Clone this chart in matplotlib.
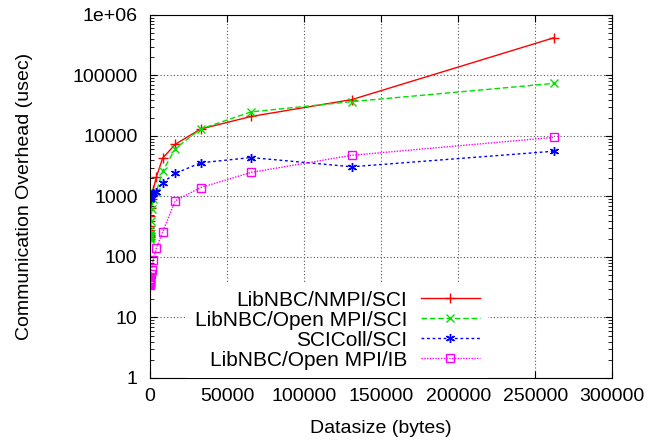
import numpy as np
import matplotlib
matplotlib.use('Agg')
import matplotlib.pyplot as plt
from matplotlib.ticker import FixedLocator, FuncFormatter, LogLocator

plt.rcParams['font.family'] = ['Liberation Sans', 'DejaVu Sans']

# message sizes (bytes): 1 .. 256K
sizes = [1, 2, 4, 8, 16, 32, 64, 128, 256, 512, 1024, 2048,
         4096, 8192, 16384, 32768, 65536, 131072, 262144]

nbc_nmpi_sci = [200, 210, 220, 230, 250, 280, 330, 400, 480, 650, 900, 1300,
                2100, 4300, 7300, 13000, 21000, 40000, 420000]
nbc_ompi_sci = [200, 205, 210, 215, 220, 225, 230, 240, 280, 400, 620, 900,
                1200, 2600, 6200, 13000, 25000, 37000, 74000]
scicoll_sci = [900, 920, 940, 950, 960, 980, 1000, 1000, 1020, 1050, 1100, 1150,
               1200, 1700, 2400, 3600, 4400, 3100, 5600]
nbc_ompi_ib = [35, 36, 37, 38, 39, 40, 42, 44, 47, 52, 60, 90,
               140, 260, 850, 1400, 2500, 4800, 9500]

labels = ['LibNBC/NMPI/SCI', 'LibNBC/Open MPI/SCI', 'SCIColl/SCI', 'LibNBC/Open MPI/IB']

fs = 14

fig = plt.figure(figsize=(6.68, 4.46), dpi=100)
ax = fig.add_axes([0.2246, 0.1525, 0.6919, 0.8139])

ax.plot(sizes, nbc_nmpi_sci, color='#ff0000', ls='-', lw=1, marker='+', ms=7, mew=1, label=labels[0])
ax.plot(sizes, nbc_ompi_sci, color='#00e000', ls=(0, (4, 2)), lw=1, marker='x', ms=5.5, mew=1, label=labels[1])
ax.plot(sizes, scicoll_sci, color='#0000ff', ls=(0, (2, 2)), lw=1, marker=(6, 2, 0), ms=6.5, mew=1, label=labels[2])
ax.plot(sizes, nbc_ompi_ib, color='#ff00ff', ls=(0, (1, 1)), lw=1, marker='s', ms=5.5, mew=1, mfc='none', label=labels[3])

ax.set_yscale('log')
ax.set_xlim(0, 300000)
ax.set_ylim(1, 1e6)

ax.xaxis.set_major_locator(FixedLocator(np.arange(0, 300001, 50000)))
ax.xaxis.set_major_formatter(FuncFormatter(lambda v, p: '%d' % v))
ax.yaxis.set_major_locator(LogLocator(base=10, numticks=10))
ax.yaxis.set_minor_locator(LogLocator(base=10, subs=np.arange(2, 10), numticks=20))
ax.yaxis.set_major_formatter(FuncFormatter(lambda v, p: '1e+06' if v >= 1e6 else '%d' % round(v)))
ax.yaxis.set_minor_formatter(FuncFormatter(lambda v, p: ''))

ax.tick_params(which='both', direction='in', top=True, right=True, labelsize=fs)
ax.tick_params(which='major', length=5)
ax.tick_params(axis='y', which='major', pad=9)
ax.tick_params(axis='x', which='major', pad=7)
ax.tick_params(which='minor', length=3)

ax.grid(True, which='major', color='#555555', ls=(0, (1, 2)), lw=0.8)
ax.set_axisbelow(True)

ax.set_xlabel('Datasize (bytes)', fontsize=fs)
ax.set_ylabel('Communication Overhead (usec)', fontsize=fs)
ax.yaxis.set_label_coords(-0.253, 0.5)
ax.xaxis.set_label_coords(0.5, -0.115)

leg = ax.legend(loc='lower right', bbox_to_anchor=(0.731, 0.0), markerfirst=False,
                fontsize=15, handlelength=2.8, handletextpad=0.67, labelspacing=0.05,
                borderaxespad=0.0, borderpad=0.4,
                frameon=True, fancybox=False, edgecolor='none', facecolor='white', framealpha=1)

fig.savefig('out.png', dpi=100)
